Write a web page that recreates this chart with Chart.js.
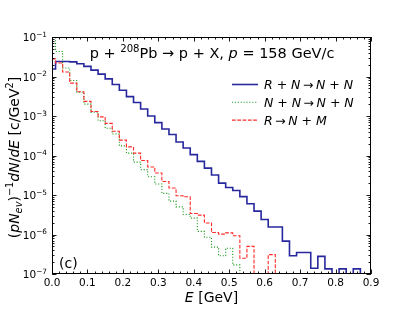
<!DOCTYPE html>
<html lang="en">
<head>
    <meta charset="UTF-8">
    <title>p + Pb -> p + X, 158 GeV/c</title>
    <style>
        html, body {
            margin: 0;
            padding: 0;
            background: #fff;
        }

        #spectrumChart {
            display: block;
        }
    </style>
    <script src="https://cdn.jsdelivr.net/npm/chart.js"></script>
</head>
<body>
    <canvas id="spectrumChart" width="412" height="309"></canvas>
<script>
    // Histogram bins: centres in GeV, width 0.02 GeV
    const binWidth = 0.02;
    const binCenters = [
        0.00, 0.02, 0.04, 0.06, 0.08, 0.10, 0.12, 0.14, 0.16, 0.18,
        0.20, 0.22, 0.24, 0.26, 0.28, 0.30, 0.32, 0.34, 0.36, 0.38,
        0.40, 0.42, 0.44, 0.46, 0.48, 0.50, 0.52, 0.54, 0.56, 0.58,
        0.60, 0.62, 0.64, 0.66, 0.68, 0.70, 0.72, 0.74, 0.76, 0.78,
        0.80, 0.82, 0.84, 0.86, 0.88
    ];

    // R + N -> N + N
    const rnToNN = [
        1.55e-2, 2.4e-2, 2.4e-2, 2.35e-2, 2.1e-2, 1.8e-2, 1.45e-2, 1.15e-2, 8.7e-3, 6.3e-3,
        4.5e-3, 3.1e-3, 2.2e-3, 1.5e-3, 1.0e-3, 6.8e-4, 4.7e-4, 3.4e-4, 2.2e-4, 1.55e-4,
        1.05e-4, 7.1e-5, 4.8e-5, 3.2e-5, 2.0e-5, 1.55e-5, 1.3e-5, 9.1e-6, 6.0e-6, 3.9e-6,
        2.4e-6, 1.55e-6, 1.55e-6, 6.8e-7, 2.9e-7, 3.5e-7, 3.5e-7, 1.4e-7, 2.8e-7, 1.35e-7,
        0, 1.35e-7, 0, 1.35e-7, 0
    ];

    // N + N -> N + N
    const nnToNN = [
        9.5e-2, 4.3e-2, 1.64e-2, 7.9e-3, 4.0e-3, 2.0e-3, 1.25e-3, 7.6e-4, 4.9e-4, 3.5e-4,
        1.75e-4, 1.15e-4, 6.8e-5, 4.4e-5, 2.9e-5, 1.9e-5, 1.1e-5, 7.0e-6, 5.0e-6, 3.2e-6,
        2.6e-6, 1.2e-6, 8.5e-7, 4.8e-7, 2.9e-7, 4.5e-7, 1.7e-7, 0, 0, 0,
        0, 0, 0, 0, 0, 0, 0, 0, 0, 0,
        0, 0, 0, 0, 0
    ];

    // R -> N + M
    const rToNM = [
        2.8e-2, 2.2e-2, 1.3e-2, 6.8e-3, 4.1e-3, 2.35e-3, 1.3e-3, 9.5e-4, 6.5e-4, 4.1e-4,
        2.45e-4, 1.65e-4, 1.15e-4, 7.5e-5, 5.1e-5, 3.6e-5, 2.2e-5, 1.5e-5, 9.6e-6, 9.0e-6,
        3.4e-6, 3.1e-6, 1.95e-6, 1.12e-6, 1.02e-6, 1.1e-6, 9.3e-7, 2.5e-7, 5.0e-7, 0,
        0, 3.1e-7, 0, 0, 0, 0, 0, 0, 0, 0,
        0, 0, 0, 0, 0
    ];

    const xTicks = [0.0, 0.1, 0.2, 0.3, 0.4, 0.5, 0.6, 0.7, 0.8, 0.9];
    const xTickLabels = ['0.0', '0.1', '0.2', '0.3', '0.4', '0.5', '0.6', '0.7', '0.8', '0.9'];
    const yTicks = [1e-7, 1e-6, 1e-5, 1e-4, 1e-3, 1e-2, 1e-1];
    const yTickExps = ['\u22127', '\u22126', '\u22125', '\u22124', '\u22123', '\u22122', '\u22121'];

    // legend labels as rich text runs
    const arrow = '\u2009\u2192\u2009';
    const seriesLabels = [
        [['R', 'i'], [' + ', 'n'], ['N', 'i'], [arrow, 'n'], ['N', 'i'], [' + ', 'n'], ['N', 'i']],
        [['N', 'i'], [' + ', 'n'], ['N', 'i'], [arrow, 'n'], ['N', 'i'], [' + ', 'n'], ['N', 'i']],
        [['R', 'i'], [arrow, 'n'], ['N', 'i'], [' + ', 'n'], ['M', 'i']]
    ];

    const EMPTY = 1e-9; // empty bins fall below the axis floor
    const FONT = '"DejaVu Sans", Verdana, sans-serif';

    // step histogram: each point holds its value up to the next edge
    function stepPoints(values) {
        const pts = values.map((v, i) => ({
            x: Math.max(0, binCenters[i] - binWidth / 2),
            y: v > 0 ? v : EMPTY
        }));
        pts.push({ x: binCenters[binCenters.length - 1] + binWidth / 2, y: EMPTY });
        return pts;
    }

    // draw a line of mixed italic / super / subscript text
    function drawRuns(ctx, runs, x, y, size, align) {
        const parts = runs.map(([t, s]) => {
            const small = s === 'sup' || s === 'sub' || s === 'isub';
            const fs = small ? size * 0.7 : size;
            const font = (s === 'i' || s === 'isub' ? 'italic ' : '') + fs + 'px ' + FONT;
            ctx.font = font;
            let dy = 0;
            if (s === 'sup') dy = -size * 0.42;
            if (s === 'sub' || s === 'isub') dy = size * 0.22;
            return { t, font, dy, w: ctx.measureText(t).width };
        });
        const total = parts.reduce((acc, p) => acc + p.w, 0);
        let cx = x;
        if (align === 'center') cx = x - total / 2;
        if (align === 'right') cx = x - total;
        ctx.textAlign = 'left';
        ctx.textBaseline = 'alphabetic';
        parts.forEach(p => {
            ctx.font = p.font;
            ctx.fillText(p.t, cx, y + p.dy);
            cx += p.w;
        });
    }

    const decorPlugin = {
        id: 'decor',
        afterDatasetsDraw(chart) {
            const { ctx, chartArea: a } = chart;
            const xs = chart.scales.x;
            const ys = chart.scales.y;
            ctx.save();
            ctx.strokeStyle = '#000';
            ctx.fillStyle = '#000';

            // inward ticks on all four sides
            ctx.lineWidth = 0.9;
            const majorLen = 4.5, minorLen = 2.5;
            ctx.beginPath();
            for (let i = 0; i <= 45; i++) {
                const px = Math.round(xs.getPixelForValue(i * 0.02)) + 0.5;
                const len = i % 5 === 0 ? majorLen : minorLen;
                ctx.moveTo(px, a.bottom); ctx.lineTo(px, a.bottom - len);
                ctx.moveTo(px, a.top); ctx.lineTo(px, a.top + len);
            }
            for (let d = -7; d <= -1; d++) {
                for (let m = 1; m <= 9; m++) {
                    if (d === -1 && m > 1) break;
                    const py = Math.round(ys.getPixelForValue(m * Math.pow(10, d))) + 0.5;
                    const len = m === 1 ? majorLen : minorLen;
                    ctx.moveTo(a.left, py); ctx.lineTo(a.left + len, py);
                    ctx.moveTo(a.right, py); ctx.lineTo(a.right - len, py);
                }
            }
            ctx.stroke();

            // frame
            ctx.lineWidth = 1;
            ctx.strokeRect(a.left + 0.5, a.top + 0.5, a.right - a.left - 1, a.bottom - a.top - 1);

            // tick labels
            ctx.font = '10.5px ' + FONT;
            ctx.textAlign = 'center';
            ctx.textBaseline = 'alphabetic';
            xTicks.forEach((v, i) => {
                ctx.fillText(xTickLabels[i], xs.getPixelForValue(v), a.bottom + 12);
            });
            yTicks.forEach((v, i) => {
                drawRuns(ctx, [['10', 'n'], [yTickExps[i], 'sup']], a.left - 5, ys.getPixelForValue(v) + 4, 10.5, 'right');
            });

            // axis titles
            drawRuns(ctx, [['E', 'i'], [' [GeV]', 'n']], (a.left + a.right) / 2, 302, 14, 'center');
            ctx.save();
            ctx.translate(19, (a.top + a.bottom) / 2 + 2);
            ctx.rotate(-Math.PI / 2);
            drawRuns(ctx, [
                ['(', 'n'], ['pN', 'i'], ['ev', 'isub'], [')', 'n'], ['\u22121', 'sup'],
                ['dN', 'i'], ['/', 'n'], ['dE', 'i'], [' [c/GeV', 'n'], ['2', 'sup'], [']', 'n']
            ], 0, 0, 14, 'center');
            ctx.restore();

            // reaction title
            drawRuns(ctx, [
                ['p + ', 'n'], ['208', 'sup'], ['Pb \u2192 p + X, ', 'n'], ['p', 'i'], [' = 158 GeV/c', 'n']
            ], 212, 58, 14.5, 'center');

            // panel tag
            drawRuns(ctx, [['(c)', 'n']], a.left + 7, 268, 14, 'left');

            // legend
            chart.data.datasets.forEach((ds, i) => {
                const ly = 84.5 + i * 17.8;
                ctx.save();
                ctx.strokeStyle = ds.borderColor;
                ctx.lineWidth = ds.borderWidth;
                ctx.setLineDash(ds.borderDash || []);
                ctx.beginPath();
                ctx.moveTo(232, ly);
                ctx.lineTo(258, ly);
                ctx.stroke();
                ctx.restore();
                drawRuns(ctx, seriesLabels[i], 264, ly + 4.5, 12.5, 'left');
            });

            ctx.restore();
        }
    };

    document.addEventListener('DOMContentLoaded', function () {
        const ctx = document.getElementById('spectrumChart').getContext('2d');
        new Chart(ctx, {
            type: 'line',
            data: {
                datasets: [{
                    label: 'R + N -> N + N',
                    data: stepPoints(rnToNN),
                    borderColor: '#28289e',
                    borderWidth: 1.6,
                    order: 3
                }, {
                    label: 'N + N -> N + N',
                    data: stepPoints(nnToNN),
                    borderColor: '#1e9a1e',
                    borderWidth: 1.1,
                    borderDash: [1.1, 1.8],
                    order: 2
                }, {
                    label: 'R -> N + M',
                    data: stepPoints(rToNM),
                    borderColor: '#ff2a2a',
                    borderWidth: 1.1,
                    borderDash: [3.7, 1.6],
                    order: 1
                }]
            },
            options: {
                responsive: false,
                animation: false,
                datasets: {
                    line: { stepped: true, pointRadius: 0, fill: false, tension: 0 }
                },
                layout: {
                    padding: { left: 52, top: 37, right: 41, bottom: 35 }
                },
                plugins: {
                    legend: { display: false },
                    tooltip: { enabled: false }
                },
                scales: {
                    x: { type: 'linear', min: 0, max: 0.9, display: false },
                    y: { type: 'logarithmic', min: 1e-7, max: 1e-1, display: false }
                }
            },
            plugins: [decorPlugin]
        });
    });
</script>
</body>
</html>
